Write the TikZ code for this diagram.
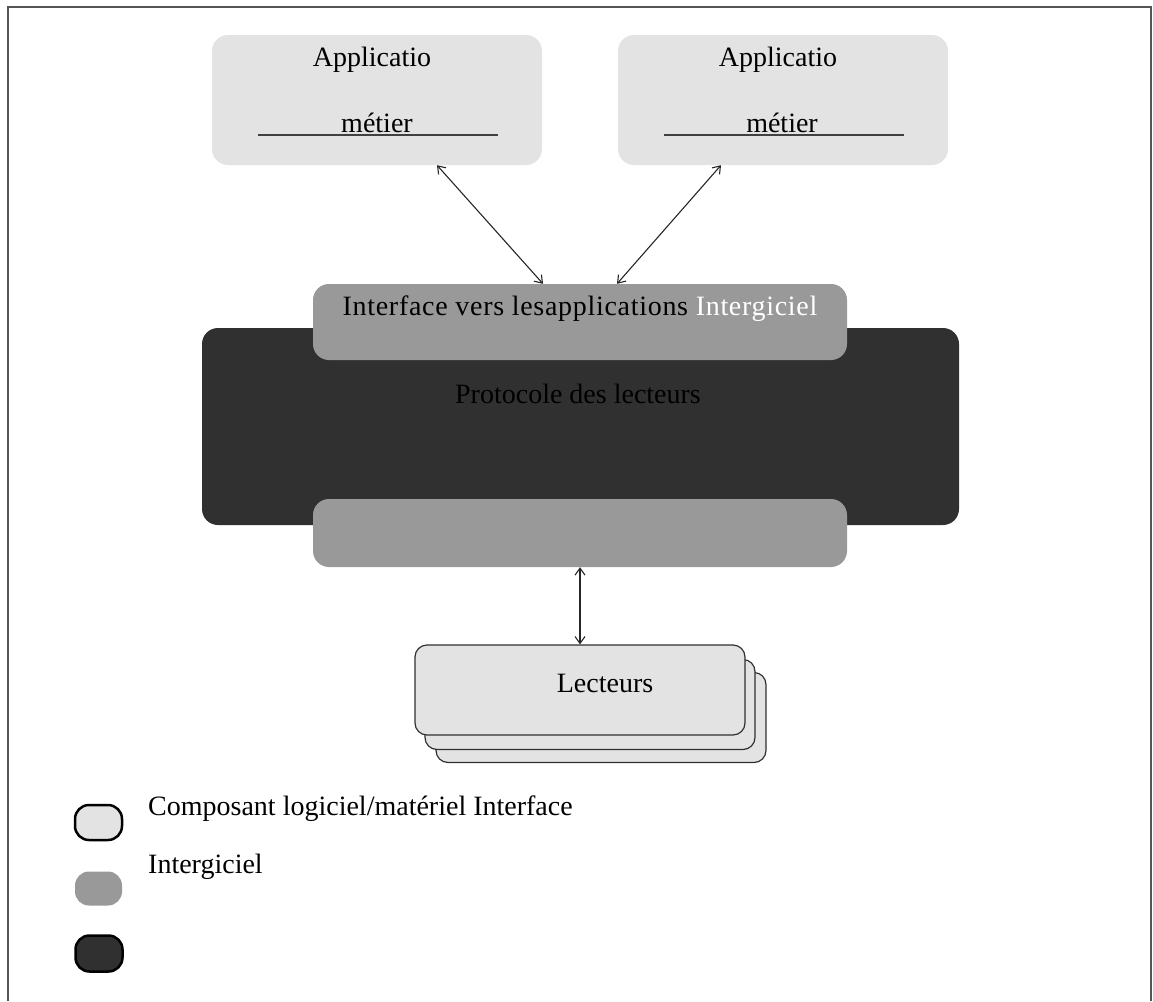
\documentclass[tikz,border=0pt]{standalone}
\usepackage{fontspec}
\setmainfont{Liberation Serif}
\usetikzlibrary{arrows.meta}
\definecolor{lightbox}{HTML}{E3E3E3}
\definecolor{midbox}{HTML}{999999}
\definecolor{darkbox}{HTML}{303030}
\definecolor{framec}{HTML}{555555}
\tikzset{
  txt/.style={font=\fontsize{28}{33}\selectfont, inner sep=0pt, text=black},
  appbox/.style={fill=lightbox, draw=none, rounded corners=16pt, minimum width=330pt, minimum height=130pt, inner sep=0pt},
  midlayer/.style={fill=midbox, draw=none, rounded corners=16pt, minimum width=534pt, inner sep=0pt},
  corebox/.style={fill=darkbox, draw=none, rounded corners=16pt, minimum width=757pt, minimum height=197pt, inner sep=0pt},
  readerbox/.style={fill=lightbox, draw=darkbox, line width=1.2pt, rounded corners=12pt, minimum width=330pt, minimum height=90pt, inner sep=0pt},
  biarrow/.style={{Straight Barb[length=7pt,width=10pt]}-{Straight Barb[length=7pt,width=10pt]}, line width=1.1pt, draw=black!85},
  underline/.style={draw=black!75, line width=1.5pt},
  legendshape/.style={rounded corners=14pt, minimum width=47pt, inner sep=0pt},
}
\begin{document}
\begin{tikzpicture}[x=1pt, y=-1pt]
  \useasboundingbox (0,0) rectangle (1153,1001);
  % outer frame, open at the bottom
  \draw[framec, line width=1.8pt] (8,1001) -- (8,7) -- (1151,7) -- (1151,1001);

  % business applications
  \node[appbox] (app1) at (377,100) {};
  \node[appbox] (app2) at (783,100) {};
  \node[txt] (app1t) at (372,60) {Applicatio};
  \node[txt] (app1m) at (377,123) {métier};
  \node[txt] (app2t) at (778,60) {Applicatio};
  \node[txt] (app2m) at (782,123) {métier};
  \draw[underline] (258,135) -- (498,135);
  \draw[underline] (664,135) -- (904,135);

  % middleware core and its two interface layers
  \node[corebox] (core) at (580.5,426.5) {};
  \node[midlayer, minimum height=76pt] (iface) at (580,322) {};
  \node[midlayer, minimum height=68pt] (lower) at (580,533) {};
  \node[txt] (ifacet) at (580,309) {\addfontfeature{LetterSpace=2.5}Interface vers lesapplications \textcolor{white}{Intergiciel}};
  \node[txt] (coret) at (578,394) {Protocole des lecteurs};

  % stacked readers
  \node[readerbox] (lec3) at (601,717.5) {};
  \node[readerbox] (lec2) at (590,704.5) {};
  \node[readerbox] (lec1) at (580,690) {};
  \node[txt] (lect) at (605,683) {Lecteurs};

  % connectors
  \draw[biarrow] ([xshift=60pt]app1.south) -- ([xshift=-37pt]iface.north);
  \draw[biarrow] ([xshift=-62pt]app2.south) -- ([xshift=37pt]iface.north);
  \draw[biarrow] (lower.south) -- (lec1.north);

  % legend
  \node[legendshape, fill=lightbox, draw=black, line width=2.5pt, minimum height=35pt] (leg1) at (98.5,822.5) {};
  \node[legendshape, fill=midbox, minimum height=34pt] (leg2) at (98.5,888.5) {};
  \node[legendshape, fill=darkbox, draw=black, line width=2.5pt, minimum height=36pt] (leg3) at (99,953.5) {};
  \node[txt, anchor=west] (leg1t) at (148,809) {Composant logiciel/matériel Interface};
  \node[txt, anchor=west] (leg2t) at (148,867) {Intergiciel};
\end{tikzpicture}
\end{document}
